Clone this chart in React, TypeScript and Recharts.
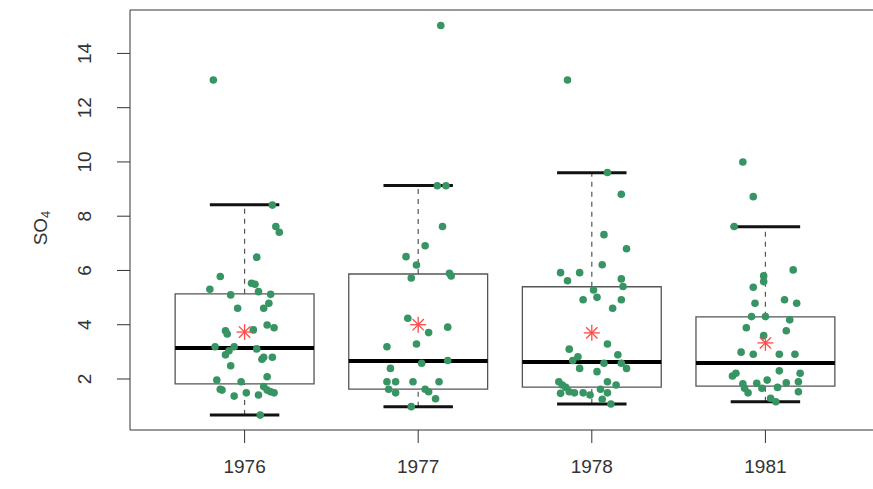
import React from "react";
import {
  ComposedChart,
  Customized,
  ReferenceArea,
  ReferenceLine,
  Scatter,
  XAxis,
  YAxis,
} from "recharts";

const years = ["1976", "1977", "1978", "1981"];
const lowerWhisker = [0.67, 0.98, 1.08, 1.16];
const lowerQuartile = [1.82, 1.63, 1.7, 1.74];
const medians = [3.14, 2.66, 2.63, 2.59];
const upperQuartile = [5.14, 5.87, 5.4, 4.29];
const upperWhisker = [8.42, 9.13, 9.6, 7.61];
const means = [3.73, 4.0, 3.7, 3.33];
const yTicks = [2, 4, 6, 8, 10, 12, 14];

// [jitter offset from the group centre, SO4 value]
const obs1976 = [
  [-0.18, 13.02], [0.16, 8.41], [0.18, 7.62], [0.2, 7.41], [0.07, 6.49], [-0.14, 5.78],
  [0.04, 5.53], [0.06, 5.49], [-0.2, 5.31], [-0.08, 5.1], [0.08, 5.22], [0.15, 5.12],
  [0.14, 4.79], [0.11, 4.61], [-0.04, 4.61], [-0.11, 3.78], [-0.1, 3.66], [0.05, 3.81],
  [0.13, 3.99], [0.17, 3.89], [-0.17, 3.19], [-0.06, 3.19], [-0.09, 3.04], [-0.11, 2.89],
  [0.07, 3.11], [0.1, 2.73], [0.11, 2.8], [0.16, 2.8], [-0.08, 2.49], [-0.16, 1.96],
  [-0.02, 1.9], [0.13, 2.08], [-0.14, 1.62], [-0.13, 1.59], [0.11, 1.72], [0.13, 1.59],
  [0.15, 1.53], [0.17, 1.49], [-0.06, 1.37], [0.01, 1.49], [0.08, 1.41], [0.09, 0.67],
];
const obs1977 = [
  [0.13, 15.03], [0.11, 9.12], [0.16, 9.12], [0.14, 7.62], [0.04, 6.91], [-0.07, 6.51],
  [-0.01, 6.2], [-0.04, 5.72], [0.18, 5.9], [0.19, 5.8], [-0.06, 4.24], [0.06, 3.71],
  [0.17, 3.91], [-0.01, 3.29], [-0.18, 3.19], [0.02, 2.58], [0.17, 2.68], [-0.16, 2.39],
  [-0.18, 1.9], [-0.13, 1.9], [-0.03, 1.9], [0.12, 1.9], [-0.17, 1.62], [-0.13, 1.49],
  [0.04, 1.62], [0.06, 1.53], [0.1, 1.27], [-0.04, 0.98],
];
const obs1978 = [
  [-0.14, 13.02], [0.09, 9.61], [0.17, 8.81], [0.07, 7.32], [0.2, 6.8], [0.06, 6.21],
  [-0.18, 5.92], [-0.07, 5.92], [-0.14, 5.62], [0.17, 5.69], [0.18, 5.41], [0.01, 5.28],
  [0.03, 5.01], [-0.05, 4.92], [0.17, 4.92], [0.12, 4.61], [0.09, 3.29], [-0.13, 3.1],
  [-0.08, 2.82], [0.15, 2.89], [-0.11, 2.68], [0.07, 2.58], [0.17, 2.58], [-0.07, 2.39],
  [0.03, 2.27], [0.2, 2.39], [-0.19, 1.9], [-0.17, 1.78], [-0.15, 1.69], [-0.13, 1.53],
  [-0.1, 1.49], [-0.18, 1.47], [-0.05, 1.49], [-0.01, 1.41], [0.05, 1.62], [0.09, 1.9],
  [0.14, 1.78], [0.09, 1.49], [0.06, 1.25], [0.11, 1.08],
];
const obs1981 = [
  [-0.13, 10.0], [-0.07, 8.72], [-0.18, 7.62], [0.16, 6.02], [-0.01, 5.8], [-0.01, 5.59],
  [-0.07, 5.38], [-0.06, 4.79], [0.11, 4.92], [0.18, 4.79], [-0.08, 4.3], [0.0, 4.3],
  [0.14, 4.18], [-0.11, 3.89], [0.12, 3.78], [-0.01, 3.6], [-0.14, 2.99], [-0.07, 2.91],
  [0.08, 2.91], [0.17, 2.91], [0.08, 2.3], [0.2, 2.21], [-0.19, 2.11], [-0.17, 2.21],
  [0.01, 1.96], [-0.13, 1.82], [0.12, 1.86], [0.19, 1.9], [-0.05, 1.84], [-0.02, 1.66],
  [-0.12, 1.66], [0.07, 1.69], [0.19, 1.53], [-0.1, 1.49], [0.03, 1.29], [0.06, 1.16],
];
const observations = [obs1976, obs1977, obs1978, obs1981];

const Y_MIN = 0.12;
const Y_MAX = 15.6;
const X_MIN = 0.34;
const X_MAX = 4.66;
const GREEN = "#379463";
const FONT = "'Liberation Sans', Arial, sans-serif";

const pointData = observations.flatMap((group, i) =>
  group.map(([dx, v]) => ({ x: i + 1 + dx, y: v }))
);
const meanData = means.map((m, i) => ({ x: i + 1, y: m }));

const Dot = (props: any) => {
  const { cx, cy } = props;
  if (cx == null || cy == null) return null;
  return <circle cx={cx} cy={cy} r={3.8} fill={GREEN} />;
};

const Star = (props: any) => {
  const { cx, cy } = props;
  if (cx == null || cy == null) return null;
  const r = 8;
  const d = r * 0.707;
  return (
    <g stroke="#ff4a4a" strokeWidth={1.3}>
      <line x1={cx - r} y1={cy} x2={cx + r} y2={cy} />
      <line x1={cx} y1={cy - r} x2={cx} y2={cy + r} />
      <line x1={cx - d} y1={cy - d} x2={cx + d} y2={cy + d} />
      <line x1={cx - d} y1={cy + d} x2={cx + d} y2={cy - d} />
    </g>
  );
};

const YTick = (props: any) => {
  const { y, payload } = props;
  return (
    <text
      x={85}
      y={y}
      transform={`rotate(-90, 85, ${y})`}
      textAnchor="middle"
      dominantBaseline="central"
      fontSize={19}
      fontFamily={FONT}
      fill="#333"
    >
      {payload.value}
    </text>
  );
};

const YLabel = () => (
  <text
    x={40}
    y={228}
    transform="rotate(-90, 40, 228)"
    textAnchor="middle"
    dominantBaseline="central"
    fontSize={19}
    fontFamily={FONT}
    fill="#333"
  >
    SO
    <tspan fontSize={13} dy={5}>
      4
    </tspan>
  </text>
);

export default function App() {
  return (
    <div
      style={{
        position: "absolute",
        left: 0,
        top: 0,
        width: 873,
        height: 489,
        overflow: "hidden",
        background: "#fff",
      }}
    >
      <ComposedChart
        width={890}
        height={489}
        margin={{ top: 10, right: 10, bottom: 0, left: 0 }}
      >
        <XAxis
          type="number"
          dataKey="x"
          domain={[X_MIN, X_MAX]}
          ticks={[1, 2, 3, 4]}
          tickFormatter={(v) => years[v - 1] ?? ""}
          allowDataOverflow
          height={59}
          tickSize={13}
          tickMargin={17}
          stroke="#333"
          tick={{ fontSize: 19, fontFamily: FONT, fill: "#333" }}
        />
        <YAxis
          type="number"
          dataKey="y"
          domain={[Y_MIN, Y_MAX]}
          ticks={yTicks}
          allowDataOverflow
          width={130}
          tickSize={13}
          stroke="#333"
          tick={<YTick />}
        />
        <ReferenceLine y={Y_MAX} stroke="#999" strokeWidth={2} />
        {years.map((yr, i) => {
          const c = i + 1;
          return (
            <React.Fragment key={yr}>
              <ReferenceLine
                segment={[{ x: c, y: upperQuartile[i] }, { x: c, y: upperWhisker[i] }]}
                stroke="#555"
                strokeDasharray="5 5"
                strokeWidth={1.2}
              />
              <ReferenceLine
                segment={[{ x: c, y: lowerWhisker[i] }, { x: c, y: lowerQuartile[i] }]}
                stroke="#555"
                strokeDasharray="5 5"
                strokeWidth={1.2}
              />
              <ReferenceArea
                x1={c - 0.4}
                x2={c + 0.4}
                y1={lowerQuartile[i]}
                y2={upperQuartile[i]}
                fill="#fff"
                fillOpacity={0}
                stroke="#555"
                strokeWidth={1.3}
              />
              <ReferenceLine
                segment={[{ x: c - 0.4, y: medians[i] }, { x: c + 0.4, y: medians[i] }]}
                stroke="#000"
                strokeWidth={4}
              />
              <ReferenceLine
                segment={[{ x: c - 0.2, y: upperWhisker[i] }, { x: c + 0.2, y: upperWhisker[i] }]}
                stroke="#111"
                strokeWidth={3}
              />
              <ReferenceLine
                segment={[{ x: c - 0.2, y: lowerWhisker[i] }, { x: c + 0.2, y: lowerWhisker[i] }]}
                stroke="#111"
                strokeWidth={3}
              />
            </React.Fragment>
          );
        })}
        <Scatter data={pointData} shape={<Dot />} isAnimationActive={false} />
        <Scatter data={meanData} shape={<Star />} isAnimationActive={false} />
        <Customized component={YLabel} />
      </ComposedChart>
    </div>
  );
}
